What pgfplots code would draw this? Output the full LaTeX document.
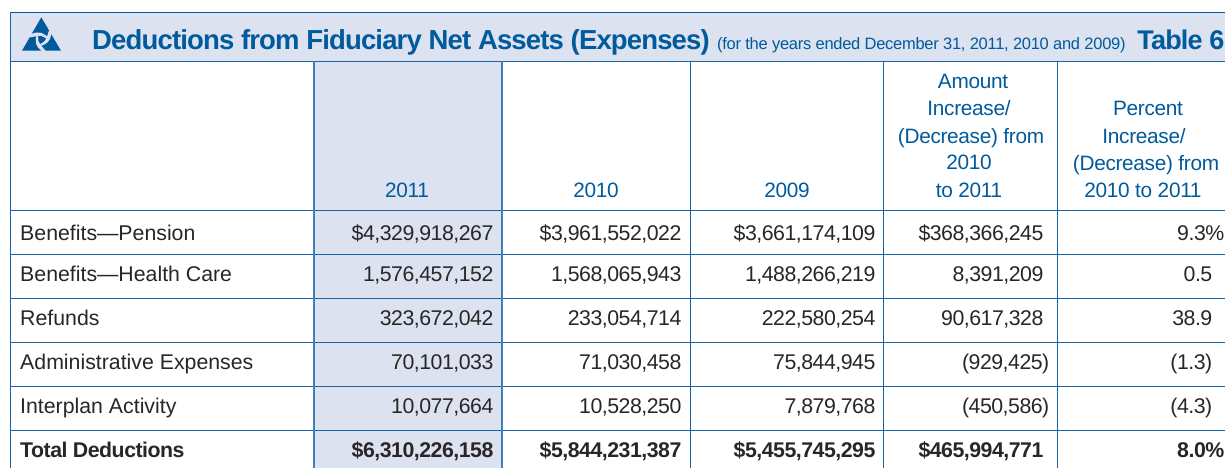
\documentclass[border=0pt]{standalone}
\usepackage{pgfplots}
\pgfplotsset{compat=1.18}
\usepackage{fontspec}
\setmainfont{Liberation Sans}
\newfontfamily\numfont[LetterSpace=-2.3]{Liberation Sans}
\newfontfamily\headfont[LetterSpace=-1.5]{Liberation Sans}
\newfontfamily\titlefont[LetterSpace=-3.1]{Liberation Sans}
\newfontfamily\subfont[LetterSpace=-1.7]{Liberation Sans}
\definecolor{hblue}{HTML}{005A9C}
\definecolor{lblue}{HTML}{1664A6}
\definecolor{mblue}{HTML}{3F80B8}
\definecolor{band}{HTML}{DCE2F0}
\definecolor{ink}{HTML}{2A2627}
\newcommand\Body{\fontsize{21.3}{25}\selectfont\color{ink}}
\newcommand\Head{\headfont\fontsize{20.8}{24}\selectfont\color{hblue}}
\newcommand\CellL[2]{\node[anchor=base west,inner sep=0pt] at (axis cs:20,#1) {\Body #2};}
\newcommand\CellB[2]{\node[anchor=base west,inner sep=0pt] at (axis cs:20,#1) {\numfont\bfseries\Body #2};}
\newcommand\CellR[4][]{\node[anchor=base east,inner sep=0pt] at (axis cs:#2,#3) {\numfont #1{}\Body #4};}
\newcommand\Hd[3]{\node[anchor=base,inner sep=0pt] at (axis cs:#1,#2) {\Head #3};}
\newcommand\Vals[7][]{%
  \CellR[#1]{493.6}{#2}{#3}\CellR[#1]{681.6}{#2}{#4}\CellR[#1]{875.6}{#2}{#5}%
  \CellR[#1]{#6}{#2}{#7}}
\begin{document}
\begin{tikzpicture}
\begin{axis}[
  scale only axis, width=1225pt, height=468pt,
  xmin=0, xmax=1225, ymin=0, ymax=468, y dir=reverse,
  hide axis, clip=true]
% page
\addplot[fill=white,draw=none] coordinates {(0,0)(1225,0)(1225,468)(0,468)} --cycle;
% bands
\addplot[fill=band,draw=none] coordinates {(11,12.5)(1225,12.5)(1225,61)(11,61)} --cycle;
\addplot[fill=band,draw=none] coordinates {(314,61)(502,61)(502,468)(314,468)} --cycle;
% horizontal rules
\addplot[hblue,line width=1.5pt] coordinates {(10,12.5)(1225,12.5)};
\addplot[lblue,line width=1.5pt] coordinates {(10,61.5)(1225,61.5)};
\addplot[lblue,line width=1.5pt] coordinates {(10,210.5)(1225,210.5)};
\addplot[lblue,line width=1.5pt] coordinates {(10,254.5)(1225,254.5)};
\addplot[lblue,line width=1.5pt] coordinates {(10,298.5)(1225,298.5)};
\addplot[lblue,line width=1.5pt] coordinates {(10,342.5)(1225,342.5)};
\addplot[lblue,line width=1.5pt] coordinates {(10,386.5)(1225,386.5)};
\addplot[lblue,line width=1.5pt] coordinates {(10,430.5)(1225,430.5)};
% vertical rules
\addplot[lblue,line width=1.5pt] coordinates {(10.5,12)(10.5,468)};
\addplot[mblue,line width=2pt] coordinates {(314,61)(314,468)};
\addplot[mblue,line width=2pt] coordinates {(502,61)(502,468)};
\addplot[lblue,line width=1.5pt] coordinates {(690.5,61)(690.5,468)};
\addplot[lblue,line width=1.5pt] coordinates {(883.5,61)(883.5,468)};
\addplot[lblue,line width=1.5pt] coordinates {(1057.5,61)(1057.5,468)};
% logo
\addplot[fill=hblue,draw=none] coordinates {(41.3,17.3)(61,50.7)(22,50.7)} --cycle;
\addplot[fill=band,draw=none,smooth] coordinates {(31,34)(36.5,32.5)(41.5,33)(46.5,36)(48.5,39.5)(45.5,38)(41.5,36)(37.5,36)(29.5,37.5)} --cycle;
\addplot[fill=band,draw=none,smooth] coordinates {(51.5,33.2)(50.1,38.7)(47.1,42.75)(42,45.6)(38,45.6)(40.8,43.7)(44.5,41.25)(46.5,37.8)(49.2,30.1)} --cycle;
\addplot[fill=band,draw=none,smooth] coordinates {(42,51.3)(37.9,47.3)(35.9,42.75)(36,36.9)(38,33.4)(38.2,36.8)(38.5,41.25)(40.5,44.7)(45.8,50.9)} --cycle;
% title
\node[anchor=base west,inner sep=0pt] at (axis cs:92,50) {\titlefont\bfseries\fontsize{27.5}{30}\selectfont\color{hblue}Deductions from Fiduciary Net Assets (Expenses)};
\node[anchor=base west,inner sep=0pt] at (axis cs:717,50) {\subfont\fontsize{16.5}{20}\selectfont\color{hblue}(for the years ended December 31, 2011, 2010 and 2009)};
\node[anchor=base east,inner sep=0pt] at (axis cs:1224.5,50) {\titlefont\bfseries\fontsize{27}{30}\selectfont\color{hblue}Table 6};
% header
\Hd{407}{197}{2011}\Hd{596}{197}{2010}\Hd{787}{197}{2009}
\Hd{973}{89}{Amount}\Hd{969}{116}{Increase/}\Hd{971}{143}{(Decrease) from}\Hd{969}{169}{2010}\Hd{969}{197}{to 2011}
\Hd{1148}{116}{Percent}\Hd{1144}{143}{Increase/}\Hd{1146}{170}{(Decrease) from}\Hd{1143}{197}{2010 to 2011}
% rows
\CellL{240}{Benefits—Pension}
\Vals{240}{\$4,329,918,267}{\$3,961,552,022}{\$3,661,174,109}{1224.5}{9.3\%}
\CellR{1043.6}{240}{\$368,366,245}
\CellL{281}{Benefits—Health Care}
\Vals{281}{1,576,457,152}{1,568,065,943}{1,488,266,219}{1212.5}{0.5}
\CellR{1043.6}{281}{8,391,209}
\CellL{325}{Refunds}
\Vals{325}{323,672,042}{233,054,714}{222,580,254}{1212.5}{38.9}
\CellR{1043.6}{325}{90,617,328}
\CellL{369}{Administrative Expenses}
\Vals{369}{70,101,033}{71,030,458}{75,844,945}{1212.5}{(1.3)}
\CellR{1049.5}{369}{(929,425)}
\CellL{413}{Interplan Activity}
\Vals{413}{10,077,664}{10,528,250}{7,879,768}{1212.5}{(4.3)}
\CellR{1049.5}{413}{(450,586)}
\CellB{457}{Total Deductions}
\Vals[\bfseries]{457}{\$6,310,226,158}{\$5,844,231,387}{\$5,455,745,295}{1224.5}{8.0\%}
\CellR[\bfseries]{1043.6}{457}{\$465,994,771}
\end{axis}
\end{tikzpicture}
\end{document}
